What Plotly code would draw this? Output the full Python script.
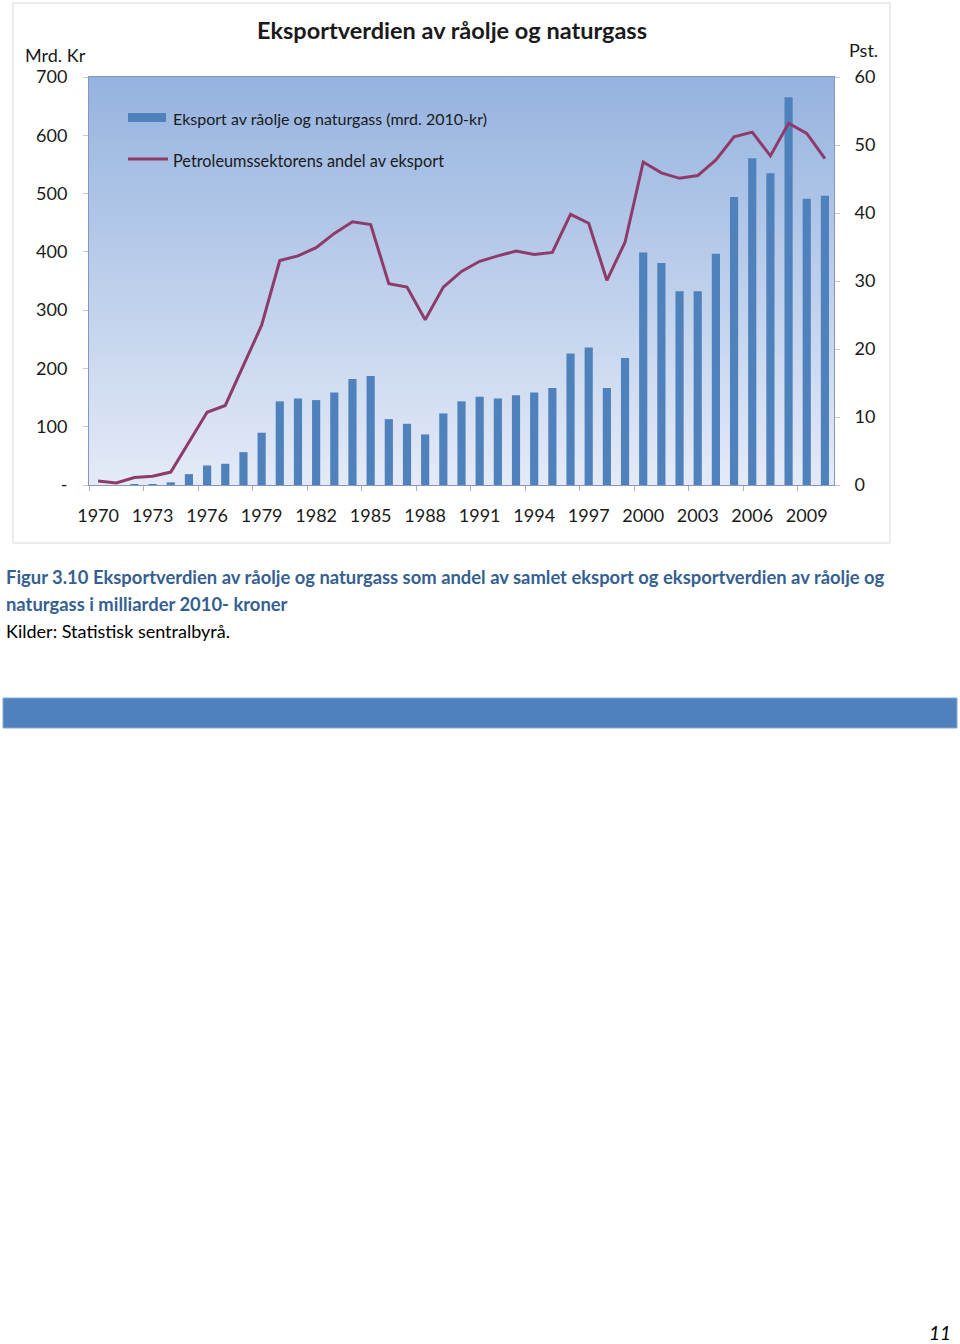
import base64
import plotly.graph_objects as go

years = list(range(1970, 2011))
eksport = [0, 0, 0.5, 1, 4.6, 18.6, 33.5, 36.4, 56.4, 89.7,
           143.5, 148.6, 145.7, 158.9, 181.8, 187, 113, 105, 86.8, 122.8,
           143.5, 151.5, 148.6, 153.8, 158.9, 166.3, 225.4, 235.7, 166.3, 217.9,
           399, 381, 332.5, 332.5, 396.6, 494, 560.5, 534.7, 665.3, 491, 496.2]
andel = [0.6, 0.3, 1.1, 1.3, 1.9, 6.4, 10.7, 11.7, 17.6, 23.5,
         33.0, 33.7, 34.9, 37.0, 38.7, 38.3, 29.6, 29.1, 24.3, 29.1,
         31.4, 32.9, 33.7, 34.4, 33.9, 34.2, 39.8, 38.5, 30.1, 35.7,
         47.5, 45.9, 45.1, 45.5, 47.8, 51.2, 51.9, 48.4, 53.2, 51.7, 48.0]
x_ticks = list(range(1970, 2010, 3))
y_left_ticks = [0, 100, 200, 300, 400, 500, 600, 700]
y_left_text = ["-", "100", "200", "300", "400", "500", "600", "700"]
y_right_ticks = [0, 10, 20, 30, 40, 50, 60]

title = "Eksportverdien av råolje og naturgass"
name_bar = "Eksport av råolje og naturgass (mrd. 2010-kr)"
name_line = "Petroleumssektorens andel av eksport"
caption1 = "Figur 3.10 Eksportverdien av råolje og naturgass som andel av samlet eksport og eksportverdien av råolje og"
caption2 = "naturgass i milliarder 2010- kroner"
source = "Kilder: Statistisk sentralbyrå."

BAR = "#4f81bd"
LINE = "#8e3b6a"
FONT = "Lato"
W, H = 960, 1344
L, R, T, B = 89, 834, 77, 485


def px(x):
    return (x - L) / (R - L)


def py(y):
    return (B - y) / (B - T)


fig = go.Figure()
fig.add_trace(go.Bar(x=years, y=eksport, name=name_bar, marker=dict(color=BAR, line=dict(width=0)),
                     width=0.45, yaxis="y"))
fig.add_trace(go.Scatter(x=years, y=andel, name=name_line, mode="lines",
                         line=dict(color=LINE, width=3), yaxis="y2"))

svg = ('<svg xmlns="http://www.w3.org/2000/svg" width="100" height="100" preserveAspectRatio="none">'
       '<defs><linearGradient id="g" x1="0" y1="0" x2="0" y2="1">'
       '<stop offset="0" stop-color="#95b3df"/><stop offset="1" stop-color="#e4eaf7"/>'
       '</linearGradient></defs><rect width="100" height="100" fill="url(#g)"/></svg>')
src = "data:image/svg+xml;base64," + base64.b64encode(svg.encode()).decode()

axcol = "#8796bd"
tickfont = dict(family=FONT, size=18, color="#1a1a1a")

fig.update_layout(
    width=W, height=H,
    margin=dict(l=L, r=W - R, t=T, b=H - B, pad=0),
    paper_bgcolor="white", plot_bgcolor="rgba(0,0,0,0)",
    showlegend=False, bargap=0.5,
    images=[dict(source=src, xref="paper", yref="paper", x=0, y=1, sizex=1, sizey=1,
                 xanchor="left", yanchor="top", sizing="stretch", layer="below")],
    xaxis=dict(range=[1969.5, 2010.5], tickvals=x_ticks, ticks="", showgrid=False,
               zeroline=False, showline=True, mirror=True, linecolor=axcol, linewidth=1,
               tickfont=tickfont, ticklabelstandoff=14,
               minor=dict(tick0=1969.5, dtick=3, ticks="outside", ticklen=5,
                          tickcolor="#b0b0b0", showgrid=False)),
    yaxis=dict(range=[0, 700], tickvals=y_left_ticks, ticktext=y_left_text, ticks="outside",
               ticklen=5, tickcolor="#c8c8c8", showgrid=False, zeroline=False,
               showline=True, mirror=True, linecolor=axcol, tickfont=tickfont,
               ticklabelstandoff=12),
    yaxis2=dict(range=[0, 60], tickvals=y_right_ticks, overlaying="y", side="right",
                ticks="outside", ticklen=5, tickcolor="#c8c8c8", showgrid=False,
                zeroline=False, showline=False, tickfont=tickfont, ticklabelstandoff=11),
)

shapes = [
    dict(type="rect", xref="paper", yref="paper", x0=px(13), x1=px(890), y0=py(3), y1=py(543),
         line=dict(color="#d9d9d9", width=1), fillcolor="rgba(0,0,0,0)", layer="below"),
    dict(type="rect", xref="paper", yref="paper", x0=px(3), x1=px(957), y0=py(698), y1=py(728),
         line=dict(color="#86a6d2", width=1), fillcolor=BAR, layer="above"),
    dict(type="rect", xref="paper", yref="paper", x0=px(128), x1=px(166), y0=py(113), y1=py(122),
         line=dict(width=0), fillcolor=BAR),
    dict(type="line", xref="paper", yref="paper", x0=px(128), x1=px(168), y0=py(159), y1=py(159),
         line=dict(color=LINE, width=3)),
]
fig.update_layout(shapes=shapes)

ann = [
    dict(text="<b>" + title + "</b>", x=px(452), y=py(30), size=23.5, color="#1a1a1a", xanchor="center"),
    dict(text="Mrd. Kr", x=px(23), y=py(55), size=18, color="#1a1a1a", xanchor="left"),
    dict(text="Pst.", x=px(880), y=py(50), size=18, color="#1a1a1a", xanchor="right"),
    dict(text=name_bar, x=px(171), y=py(118), size=16, color="#1a1a1a", xanchor="left"),
    dict(text=name_line, x=px(171), y=py(160), size=16.3, color="#1a1a1a", xanchor="left"),
    dict(text="<b>" + caption1 + "</b>", x=px(4), y=py(577), size=18.4, color="#365f91", xanchor="left"),
    dict(text="<b>" + caption2 + "</b>", x=px(4), y=py(604), size=18.4, color="#365f91", xanchor="left"),
    dict(text=source, x=px(4), y=py(631), size=18, color="#000000", xanchor="left"),
    dict(text="<i>11</i>", x=px(953), y=py(1332), size=19, color="#000000", xanchor="right"),
]
for a in ann:
    fig.add_annotation(text=a["text"], xref="paper", yref="paper", x=a["x"], y=a["y"],
                       xanchor=a["xanchor"], yanchor="middle", showarrow=False,
                       font=dict(family=FONT, size=a["size"], color=a["color"]))

fig.write_html("out.html")
